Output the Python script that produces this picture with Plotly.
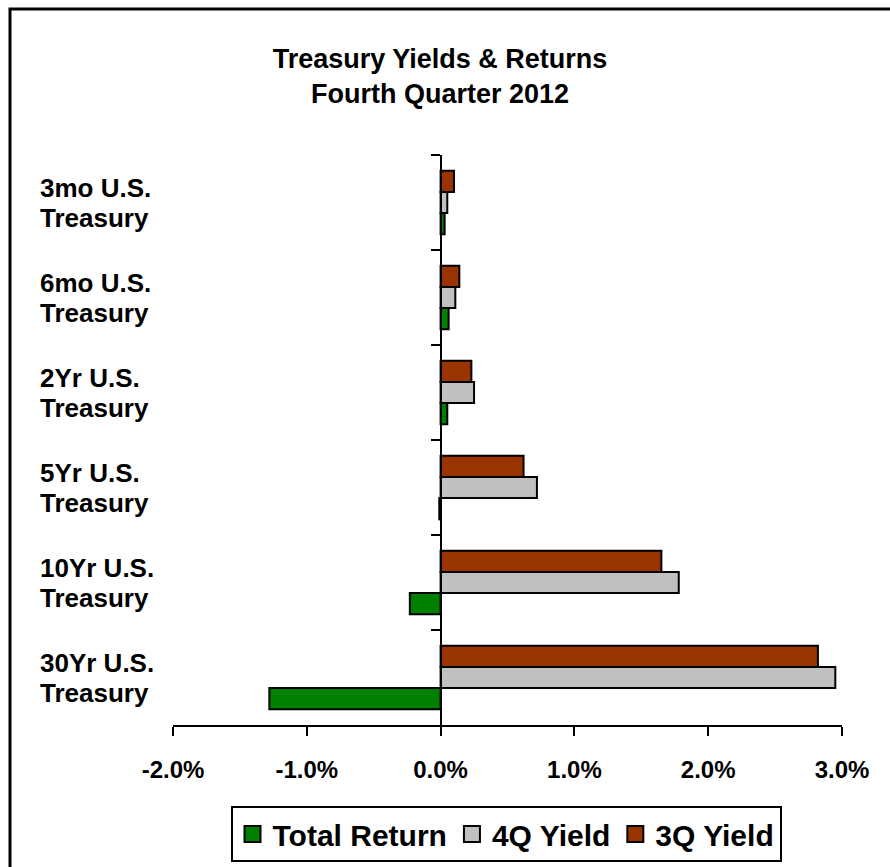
import plotly.graph_objects as go

categories = ["3mo U.S. Treasury", "6mo U.S. Treasury", "2Yr U.S. Treasury",
              "5Yr U.S. Treasury", "10Yr U.S. Treasury", "30Yr U.S. Treasury"]
label_line1 = ["3mo U.S.", "6mo U.S.", "2Yr U.S.", "5Yr U.S.", "10Yr U.S.", "30Yr U.S."]
label_line2 = ["Treasury"] * 6

total_return = [0.03, 0.06, 0.05, -0.01, -0.23, -1.28]
q4_yield = [0.05, 0.11, 0.25, 0.72, 1.78, 2.95]
q3_yield = [0.10, 0.14, 0.23, 0.62, 1.65, 2.82]

series_names = ["3Q Yield", "4Q Yield", "Total Return"]
series_values = [q3_yield, q4_yield, total_return]
series_colors = ["#993300", "#C0C0C0", "#008000"]

x_ticks = [-2, -1, 0, 1, 2, 3]

FONT = "Arial, Liberation Sans, sans-serif"
W, H = 890, 867
L, R, T, B = 173, 48, 155, 142
PW = W - L - R
PH = H - T - B

fig = go.Figure()
for name, vals, col in zip(series_names, series_values, series_colors):
    fig.add_trace(go.Bar(y=categories, x=vals, orientation="h", name=name, showlegend=False,
                         marker=dict(color=col, line=dict(color="black", width=2))))
# legend entries (bigger square symbols, as in the original legend)
for name, col in zip(series_names, series_colors):
    fig.add_trace(go.Scatter(x=[None], y=[None], mode="markers", name="<b>%s</b>" % name,
                             marker=dict(symbol="square", size=20, color=col,
                                         line=dict(color="black", width=2)),
                             hoverinfo="skip"))

annotations = []
lx = (38 - L) / PW
for cat, l1, l2 in zip(categories, label_line1, label_line2):
    annotations.append(dict(text="<b>%s</b>" % l1, x=lx, xref="paper", xanchor="left",
                            y=cat, yref="y", yanchor="middle", yshift=15, showarrow=False,
                            font=dict(family=FONT, size=26, color="black")))
    annotations.append(dict(text="<b>%s</b>" % l2, x=lx, xref="paper", xanchor="left",
                            y=cat, yref="y", yanchor="middle", yshift=-15, showarrow=False,
                            font=dict(family=FONT, size=26, color="black")))

fig.update_layout(
    width=W, height=H,
    margin=dict(l=L, r=R, t=T, b=B, autoexpand=False),
    paper_bgcolor="white", plot_bgcolor="white",
    barmode="group", bargap=0.33, bargroupgap=0,
    font=dict(family=FONT, color="black"),
    title=dict(text="<b>Treasury Yields & Returns<br>Fourth Quarter 2012</b>",
               x=(440 - L) / PW, xref="paper", xanchor="center",
               y=1 - 68 / H, yref="container", yanchor="top",
               font=dict(family=FONT, size=27, color="black")),
    xaxis=dict(range=[-2, 3], tickvals=x_ticks, ticktext=["<b>%.1f%%</b>" % v for v in x_ticks],
               showline=True, linecolor="black", linewidth=2, ticks="outside", ticklen=9,
               tickwidth=2, tickcolor="black", showgrid=False, zeroline=False,
               ticklabelstandoff=13, automargin=False,
               tickfont=dict(family=FONT, size=24, color="black"), domain=[0, 1]),
    yaxis=dict(type="category", categoryorder="array", categoryarray=categories,
               range=[5.5, -0.5], anchor="free", position=0.4, automargin=False,
               showline=True, linecolor="black", linewidth=2, ticks="outside", ticklen=9,
               tickwidth=2, tickcolor="black", tickson="boundaries",
               showticklabels=False, showgrid=False, zeroline=False),
    legend=dict(orientation="h", x=(506 - L) / PW, xanchor="center",
                y=1 - 806 / H, yref="container",
                yanchor="top", traceorder="reversed", bordercolor="black", borderwidth=2,
                bgcolor="white", itemwidth=30,
                font=dict(family=FONT, size=30, color="black")),
    annotations=annotations,
    showlegend=True,
)

fig.add_shape(type="rect", xref="paper", yref="paper",
              x0=(10 - L) / PW, x1=(960 - L) / PW,
              y0=(T + PH - 960) / PH, y1=(T + PH - 9) / PH,
              line=dict(color="black", width=3), layer="below")

fig.write_html("out.html", config={"displayModeBar": False},
               post_script="document.body.style.margin='0';document.body.style.overflow='hidden';")
